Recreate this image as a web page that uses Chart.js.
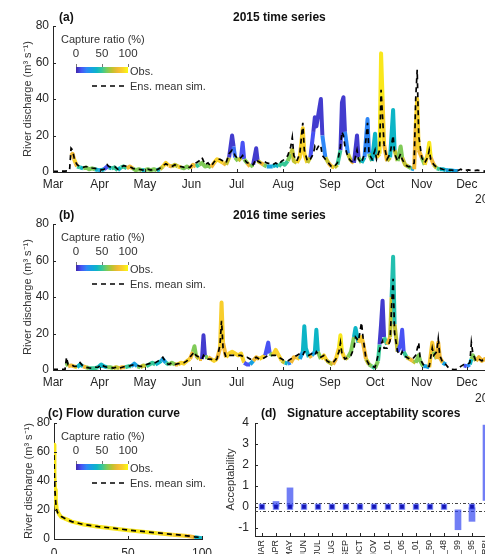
<!DOCTYPE html>
<html lang="en">
<head>
<meta charset="UTF-8">
<title>Discharge capture ratio and signature acceptability</title>
<script src="https://cdn.jsdelivr.net/npm/chart.js"></script>
<style>
    html, body {
        margin: 0;
        padding: 0;
        background: #fff;
        width: 485px;
        height: 554px;
        overflow: hidden;
    }
    body {
        position: relative;
        font-family: "Liberation Sans", Arial, Helvetica, sans-serif;
        color: #262626;
    }
    canvas { position: absolute; }
    .t { position: absolute; white-space: nowrap; line-height: 14px; }
    .ttl { font-weight: bold; font-size: 12px; color: #111; }
    .leg { font-size: 11px; color: #333; }
    .yr { font-size: 12px; color: #262626; }
    .cbar { position: absolute; height: 6px; }
    .ctick { position: absolute; width: 1px; height: 3px; background: #777; }
</style>
</head>
<body>
<canvas id="c2015" width="540" height="200" style="left:0;top:0;"></canvas>
<canvas id="c2016" width="540" height="200" style="left:0;top:198px;"></canvas>
<canvas id="cfdc" width="230" height="170" style="left:0;top:397px;"></canvas>
<canvas id="csig" width="360" height="200" style="left:200px;top:397px;"></canvas>
<script>
    Chart.defaults.font.family = '"Liberation Sans", Arial, Helvetica, sans-serif';
    Chart.defaults.color = '#262626';

    // month axis for the time series (days counted from 1 March)
    const months = ['Mar', 'Apr', 'May', 'Jun', 'Jul', 'Aug', 'Sep', 'Oct', 'Nov', 'Dec'];
    const monthStartDays = [0, 31, 61, 92, 122, 153, 184, 214, 245, 275];

    // 2015 series: day, observed, ensemble mean sim, capture ratio (%)
    const days2015 = [0, 4, 8, 11, 12, 13, 14, 15, 16, 18,
        20, 22, 24, 26, 28, 30, 32, 34, 36, 37,
        39, 41, 43, 45, 47, 49, 51, 53, 55, 57,
        59, 61, 63, 65, 67, 69, 71, 73, 75, 77,
        79, 81, 83, 85, 87, 89, 91, 93, 95, 97,
        99, 101, 103, 105, 107, 109, 111, 113, 115, 117,
        119, 120, 121, 123, 125, 126, 127, 129, 131, 133,
        135, 136, 138, 140, 142, 144, 146, 148, 150, 152,
        154, 156, 158, 159, 160, 162, 164, 166, 167, 169,
        171, 173, 174, 175, 177, 178, 179, 181, 183, 185,
        187, 189, 191, 192, 193, 194, 196, 198, 200, 202,
        203, 205, 207, 209, 210, 212, 214, 215, 217, 218,
        219, 220, 222, 224, 226, 227, 229, 231, 232, 234,
        236, 238, 240, 241, 242, 243, 245, 247, 249, 250,
        251, 253, 255, 257, 259, 261, 263, 265, 267, 269,
        271, 273, 276, 279, 282, 285, 290, 295, 300, 305];
    const obs2015 = [null, null, null, null, 9, 10, 7, 5, 3, 2.5,
        2, 2.5, 1.5, 2, 1.5, 1, 1, 1.5, 3, 2.5,
        2, 2.5, 1, 2.5, 3, 2, 3, 2, 1, 1.5,
        1, 1, 1.5, 1, 1.5, 1, 1.5, 3, 5, 3.5,
        3, 4, 3, 2.5, 2, 3, 2, 4, 3, 4,
        5, 3, 3.5, 2.5, 5, 7, 6, 5, 4, 8,
        20, 14, 8, 6, 8, 16, 7, 5, 3, 4,
        13, 6, 5, 4, 3, 3, 3, 4, 3, 5,
        4, 6, 10, 12, 6, 5, 8, 24, 10, 5,
        8, 22, 30, 25, 35, 40, 20, 8, 5, 3,
        2.5, 4, 12, 38, 41, 22, 10, 6, 5, 20,
        8, 5, 8, 29, 10, 6, 21, 8, 10, 65,
        40, 15, 6, 8, 34, 12, 6, 14, 8, 4,
        3, 2, 1.5, 25, 40, 12, 8, 4, 10, 16,
        8, 4, 2, 1.5, 1.5, 1, 1, 0.8, 0.6, 0.5,
        null, null, null, null, null, null, null, null, null, null];
    const sim2015 = [0.4, 0.4, 0.5, 0.8, 13, 12, 8, 5.5, 4, 3,
        2.5, 3, 2.5, 2.2, 2, 1.5, 1.2, 1.5, 4, 3,
        2.5, 3, 1.5, 2.5, 3.5, 3, 3, 2, 1.5, 1.5,
        1.2, 1, 1.5, 1, 1.5, 1.2, 2, 3.5, 4.5, 3.5,
        3, 4, 3, 3, 2.5, 3, 2.5, 4.5, 5, 6,
        8, 4, 5, 3, 5.5, 7, 7, 6, 5, 10,
        12, 11, 9, 7, 8, 9, 7, 5, 5, 4,
        7, 6, 5, 6, 5, 4.5, 4, 5, 4, 6,
        7, 9, 14, 19, 9, 6, 10, 27, 12, 6,
        7, 10, 14, 12, 15, 14, 9, 7, 5, 3,
        3, 5, 14, 22, 20, 14, 8, 6, 5, 12,
        7, 5, 10, 27, 10, 7, 12, 7, 12, 45,
        30, 15, 7, 10, 20, 10, 6, 10, 7, 4,
        3, 3, 5, 40, 56, 20, 8, 5, 8, 12,
        7, 4, 2.5, 2, 1.5, 1.2, 1, 1, 0.8, 0.8,
        1.5, 0.6, 1.2, 0.6, 1, 0.5, 0.6, 0.4, 0.5, 0.4];
    const capture2015 = [0, 0, 0, 0, 60, 80, 90, 80, 50, 40,
        40, 60, 30, 60, 40, 30, 30, 40, 10, 40,
        40, 50, 30, 40, 50, 70, 80, 60, 40, 60,
        40, 40, 60, 50, 60, 50, 40, 70, 90, 80,
        70, 70, 90, 60, 40, 60, 50, 80, 40, 50,
        60, 40, 60, 50, 80, 90, 90, 80, 60, 70,
        5, 15, 60, 80, 70, 10, 60, 80, 40, 60,
        5, 70, 80, 60, 30, 30, 40, 40, 40, 50,
        40, 50, 60, 70, 70, 80, 90, 90, 90, 80,
        70, 10, 5, 10, 5, 5, 20, 70, 80, 90,
        80, 70, 50, 5, 5, 20, 70, 80, 70, 5,
        60, 80, 40, 20, 60, 80, 40, 70, 90, 95,
        90, 80, 80, 70, 40, 70, 80, 60, 70, 70,
        60, 30, 30, 80, 90, 80, 60, 70, 90, 95,
        80, 70, 50, 40, 40, 30, 40, 30, 30, 30,
        0, 0, 0, 0, 0, 0, 0, 0, 0, 0];

    // 2016 series
    const days2016 = [0, 4, 8, 9, 10, 12, 14, 16, 18, 20,
        22, 24, 26, 28, 30, 32, 34, 36, 38, 40,
        42, 44, 46, 48, 50, 52, 54, 56, 58, 60,
        62, 64, 66, 68, 70, 72, 73, 75, 77, 79,
        81, 83, 85, 87, 89, 91, 93, 94, 95, 97,
        99, 100, 101, 103, 105, 107, 109, 111, 112, 113,
        115, 117, 119, 121, 123, 125, 127, 129, 131, 133,
        135, 137, 139, 141, 143, 144, 146, 148, 150, 152,
        154, 156, 158, 160, 162, 164, 166, 167, 168, 170,
        172, 174, 175, 176, 178, 180, 182, 184, 186, 188,
        190, 191, 192, 194, 196, 198, 200, 201, 203, 205,
        206, 208, 210, 212, 214, 216, 217, 218, 219, 220,
        222, 224, 225, 226, 227, 229, 231, 232, 233, 235,
        237, 239, 241, 243, 244, 246, 248, 250, 252, 253,
        255, 256, 257, 259, 261, 263, 265, 267, 269, 271,
        273, 275, 277, 278, 279, 281, 283, 285, 287, 290];
    const obs2016 = [null, null, null, 4, 2, 2.5, 2, 1.5, 3, 2,
        1.5, 1, 1, 1, 1.5, 3, 2, 1.5, 1.5, 1,
        1.5, 1, 1.5, 1.5, 2, 2, 3.5, 2, 1.5, 2.5,
        2, 3, 4, 3, 4, 5, 6, 4, 3, 4,
        3, 3, 4, 3.5, 5, 6, 10, 13, 8, 6,
        6, 19, 7, 7, 6, 5, 6, 12, 37, 15,
        7, 9, 10, 9, 8, 9, 4, 3, 3, 5,
        7, 6, 7, 8, 15, 9, 8, 11, 8, 5,
        4, 3.5, 4, 7, 7, 6, 10, 24, 12, 7,
        8, 10, 22, 10, 6, 8, 5, 4, 3, 6,
        12, 19, 10, 6, 7, 10, 18, 23, 15, 18,
        15, 6, 3, 2, 1, 5, 14, 25, 38, 18,
        14, 18, 40, 62, 25, 10, 14, 22, 10, 7,
        6, 5, 4, 8, 5, 2, 2, 1.5, 15, 10,
        6, 15, 7, 4, 3, null, null, null, null, null,
        2.5, 2, 3, 6, 8, 5, 7, 5, 6, 5];
    const sim2016 = [0.3, 0.3, 0.4, 7, 3, 3, 2, 2, 4, 2,
        1.5, 1.2, 1, 1.5, 1.5, 3, 2, 1.5, 1.5, 1,
        1.5, 1, 1.5, 2, 2, 2.5, 3, 2.5, 2, 2,
        3, 3.5, 4, 4, 5, 6, 7, 4, 3, 4,
        3, 3.5, 3.5, 4, 5, 7, 9, 10, 8, 7,
        6, 8, 7, 6, 6, 5, 6, 14, 27, 12,
        7, 8, 8, 8, 8, 8, 7, 7, 6, 6,
        7, 6, 6, 7, 8, 8, 8, 8, 7, 6,
        5, 5, 6, 7, 8, 9, 8, 10, 10, 8,
        9, 8, 10, 9, 7, 8, 5, 4, 4, 6,
        10, 15, 9, 6, 7, 8, 12, 18, 16, 26,
        18, 6, 3, 2, 1.5, 8, 11, 14, 16, 12,
        12, 16, 35, 50, 20, 10, 8, 10, 8, 7,
        6, 6, 8, 15, 6, 3, 2, 2, 12, 8,
        10, 17, 8, 4, 3, 1, 0.3, 0.2, 0.4, 2,
        3, 3, 4, 15, 9, 5, 6, 5, 7, 6];
    const capture2016 = [0, 0, 0, 60, 60, 80, 90, 80, 40, 80,
        60, 50, 50, 40, 50, 40, 40, 60, 60, 50,
        70, 60, 80, 60, 50, 60, 30, 60, 60, 70,
        40, 50, 50, 60, 40, 40, 30, 50, 50, 60,
        80, 90, 90, 90, 90, 90, 80, 60, 70, 80,
        60, 5, 60, 80, 90, 90, 90, 80, 88, 80,
        90, 90, 90, 90, 90, 90, 10, 10, 10, 30,
        80, 90, 90, 90, 10, 60, 80, 90, 90, 70,
        40, 20, 20, 80, 90, 50, 30, 40, 40, 70,
        80, 30, 40, 60, 80, 90, 70, 70, 60, 80,
        90, 95, 90, 80, 70, 60, 60, 40, 80, 85,
        80, 70, 60, 50, 40, 60, 50, 5, 5, 50,
        80, 80, 70, 45, 70, 80, 10, 10, 50, 70,
        80, 70, 40, 60, 60, 30, 30, 30, 85, 60,
        50, 80, 80, 30, 20, 0, 0, 0, 0, 0,
        10, 10, 20, 40, 60, 70, 80, 70, 80, 70];

    // flow duration curve (exceedance %, discharge)
    const fdcExceed = [0, 0.3, 0.7, 1.2, 1.8, 2.5, 3.5, 5, 8.6, 12, 20, 30, 40, 50, 60, 70, 80, 90, 95, 100];
    const fdcObs = [65, 45, 34, 27, 21, 19, 17, 15, 13.5, 12, 10, 8.5, 7.3, 6, 5, 4, 3, 2, 1.3, 0.5];
    const fdcSim = [58, 42, 32, 25, 20, 18, 17, 15.5, 13.5, 12, 10, 8.5, 7.5, 6.2, 5.2, 4.2, 3.2, 2.2, 1.5, 1];
    const fdcCapture = [95, 95, 95, 95, 95, 95, 95, 95, 95, 95, 95, 95, 95, 95, 95, 92, 90, 80, 40, 20];

    // signature acceptability scores
    const sigNames = ['Q_MAR', 'Q_APR', 'Q_MAY', 'Q_JUN', 'Q_JUL', 'Q_AUG', 'Q_SEP', 'Q_OCT', 'Q_NOV',
        'Q_01', 'FDC_05', 'BFI_01', 'FDC_50', 'RL_48', 'FDC_99', 'Q_95', 'RBI', 'SFDC', 'RR', 'EI'];
    const sigMarker = [0, 0, 0, 0, 0, 0, 0, 0, 0, 0, 0, 0, 0, 0, null, 0, null, null, null, null];
    const sigLow = [null, 0, 0, null, null, null, null, null, null, null, null, null, null, null, -1.1, -0.7, 0.3, null, null, null];
    const sigHigh = [null, 0.25, 0.9, null, null, null, null, null, null, null, null, null, null, null, -0.15, -0.05, 3.9, null, null, null];
    const acceptBounds = [0.2, -0.2];
    const accTicks = [-1, 0, 1, 2, 3, 4];

    // parula colormap
    const parulaStops = ['#3e26a8', '#4852f4', '#2e87f7', '#16a1e2', '#0db5c6', '#37c897',
        '#80cb58', '#c2c22f', '#f2b934', '#f9d32a', '#f9fb0e'];
    function hexRgb(h) { return [1, 3, 5].map(i => parseInt(h.substr(i, 2), 16)); }
    function parula(t) {
        t = Math.max(0, Math.min(1, t)) * (parulaStops.length - 1);
        const i = Math.min(Math.floor(t), parulaStops.length - 2), f = t - i;
        const a = hexRgb(parulaStops[i]), b = hexRgb(parulaStops[i + 1]);
        return 'rgb(' + a.map((v, k) => Math.round(v + (b[k] - v) * f)).join(',') + ')';
    }

    // MATLAB style ticks pointing into the axes
    const innerTicks = {
        id: 'innerTicks',
        afterDraw(chart) {
            const { ctx, chartArea: a } = chart;
            const xs = chart.scales.x, ys = chart.scales.y;
            ctx.save();
            ctx.strokeStyle = '#262626';
            ctx.lineWidth = 1;
            ctx.beginPath();
            xs.ticks.forEach((t, i) => {
                const px = Math.round(xs.getPixelForTick(i)) + 0.5;
                ctx.moveTo(px, a.bottom); ctx.lineTo(px, a.bottom - 3);
            });
            ys.ticks.forEach((t, i) => {
                const py = Math.round(ys.getPixelForTick(i)) + 0.5;
                ctx.moveTo(a.left, py); ctx.lineTo(a.left + 3, py);
            });
            ctx.stroke();
            ctx.restore();
        }
    };

    const refLines = {
        id: 'refLines',
        beforeDatasetsDraw(chart) {
            const { ctx, chartArea: a, scales: { y } } = chart;
            ctx.save();
            ctx.setLineDash([3, 2, 1, 2]);
            ctx.strokeStyle = '#444';
            ctx.lineWidth = 1;
            acceptBounds.forEach(v => {
                const py = Math.round(y.getPixelForValue(v)) + 0.5;
                ctx.beginPath(); ctx.moveTo(a.left, py); ctx.lineTo(a.right, py); ctx.stroke();
            });
            ctx.restore();
        }
    };

    const axisGrid = { display: true, drawOnChartArea: false, drawTicks: false };
    const axisBorder = { color: '#262626', width: 1 };
    const yTitle = { display: true, text: 'River discharge (m³ s⁻¹)', font: { size: 11 }, color: '#333', padding: { top: 4, bottom: 0 } };

    function lineSets(xs, obs, sim, cap) {
        // each obs segment takes the capture colour of its higher end
        const segColour = c => {
            const i = (obs[c.p1DataIndex] > obs[c.p0DataIndex]) ? c.p1DataIndex : c.p0DataIndex;
            return parula(cap[i] / 100);
        };
        return [
            {
                label: 'Ens. mean sim.',
                data: xs.map((d, i) => ({ x: d, y: sim[i] })),
                borderColor: '#000', borderWidth: 1.7, borderDash: [5, 4],
                pointRadius: 0, order: 0
            },
            {
                label: 'Obs.',
                data: xs.map((d, i) => ({ x: d, y: obs[i] })),
                borderColor: parula(0.9), borderWidth: 4, borderJoinStyle: 'round',
                pointRadius: 0, order: 1,
                segment: { borderColor: segColour }
            }
        ];
    }

    function seriesChart(id, xs, obs, sim, cap) {
        return new Chart(document.getElementById(id), {
            type: 'line',
            data: { datasets: lineSets(xs, obs, sim, cap) },
            options: {
                responsive: false, animation: false, events: [],
                layout: { padding: { left: 17, top: 26, right: 28, bottom: 8 } },
                plugins: { legend: { display: false }, tooltip: { enabled: false } },
                scales: {
                    x: {
                        type: 'linear', min: 0, max: 305,
                        afterBuildTicks: s => { s.ticks = monthStartDays.map(v => ({ value: v })); },
                        afterFit: s => { s.height = 20; },
                        ticks: { callback: (v, i) => months[i], font: { size: 12 }, padding: 5, maxRotation: 0, autoSkip: false },
                        grid: axisGrid, border: axisBorder
                    },
                    y: {
                        min: 0, max: 80,
                        ticks: { stepSize: 20, font: { size: 12 }, padding: 4 },
                        afterFit: s => { s.width = 36; },
                        title: yTitle, grid: axisGrid, border: axisBorder
                    }
                }
            },
            plugins: [innerTicks]
        });
    }

    seriesChart('c2015', days2015, obs2015, sim2015, capture2015);
    seriesChart('c2016', days2016, obs2016, sim2016, capture2016);

    new Chart(document.getElementById('cfdc'), {
        type: 'line',
        data: { datasets: lineSets(fdcExceed, fdcObs, fdcSim, fdcCapture) },
        options: {
            responsive: false, animation: false, events: [],
            layout: { padding: { left: 18, top: 26, right: 28, bottom: 8 } },
            plugins: { legend: { display: false }, tooltip: { enabled: false } },
            scales: {
                x: {
                    type: 'linear', min: 0, max: 100,
                    afterFit: s => { s.height = 20; },
                    ticks: { stepSize: 50, font: { size: 12 }, padding: 7, maxRotation: 0 },
                    grid: axisGrid, border: axisBorder
                },
                y: {
                    min: 0, max: 80,
                    ticks: { stepSize: 20, font: { size: 12 }, padding: 4 },
                    afterFit: s => { s.width = 36; },
                    title: yTitle, grid: axisGrid, border: axisBorder
                }
            }
        },
        plugins: [innerTicks]
    });

    new Chart(document.getElementById('csig'), {
        type: 'bar',
        data: {
            labels: sigNames,
            datasets: [
                {
                    type: 'line', data: sigMarker, showLine: false,
                    pointStyle: 'rect', pointRadius: 3.5,
                    pointBackgroundColor: '#1414b4', pointBorderColor: 'rgba(90,110,255,0.55)', pointBorderWidth: 1.5,
                    order: 0
                },
                {
                    type: 'bar', data: sigLow.map((v, i) => v == null ? null : [v, sigHigh[i]]),
                    backgroundColor: 'rgba(45,65,240,0.68)', barThickness: 6, order: 1
                }
            ]
        },
        options: {
            responsive: false, animation: false, events: [],
            layout: { padding: { left: 20, top: 26, right: 25, bottom: 1 } },
            plugins: { legend: { display: false }, tooltip: { enabled: false } },
            scales: {
                x: {
                    afterFit: s => { s.height = 60; },
                    ticks: { minRotation: 90, maxRotation: 90, autoSkip: false, font: { size: 9 }, padding: 4 },
                    grid: axisGrid, border: axisBorder
                },
                y: {
                    min: -1.4, max: 4,
                    afterBuildTicks: s => { s.ticks = accTicks.map(v => ({ value: v })); },
                    afterFit: s => { s.width = 35; },
                    ticks: { font: { size: 12 }, padding: 6 },
                    title: { display: true, text: 'Acceptability', font: { size: 11 }, color: '#333', padding: { top: 4, bottom: 0 } },
                    grid: axisGrid, border: axisBorder
                }
            }
        },
        plugins: [innerTicks, refLines]
    });

    // titles, year labels and the colourbar legends
    function put(text, left, top, cls, extra) {
        const d = document.createElement('div');
        d.className = 't ' + cls;
        d.textContent = text;
        d.style.left = left + 'px';
        d.style.top = top + 'px';
        if (extra) Object.assign(d.style, extra);
        document.body.appendChild(d);
        return d;
    }

    put('(a)', 59, 10, 'ttl');
    put('2015 time series', 233, 10, 'ttl');
    put('(b)', 59, 208, 'ttl');
    put('2016 time series', 233, 208, 'ttl');
    put('(c) Flow duration curve', 48, 406, 'ttl');
    put('(d)', 261, 406, 'ttl');
    put('Signature acceptability scores', 287, 406, 'ttl');
    put('2015', 475, 192, 'yr');
    put('2016', 475, 391, 'yr');

    const legendTicks = [0, 50, 100];
    function addLegend(top) {
        put('Capture ratio (%)', 61, top + 6, 'leg');
        legendTicks.forEach(v => {
            const cx = 76 + v * 0.52;
            put(String(v), cx - 15, top + 20, 'leg', { width: '30px', textAlign: 'center', fontSize: '11.5px' });
            const tk = document.createElement('div');
            tk.className = 'ctick';
            tk.style.left = Math.round(cx) + 'px';
            tk.style.top = (top + 38) + 'px';
            document.body.appendChild(tk);
        });
        const bar = document.createElement('div');
        bar.className = 'cbar';
        bar.style.left = '76px';
        bar.style.top = (top + 41) + 'px';
        bar.style.width = '52px';
        bar.style.background = 'linear-gradient(to right,' + parulaStops.join(',') + ')';
        document.body.appendChild(bar);
        put('Obs.', 130, top + 38, 'leg');
        const svg = document.createElementNS('http://www.w3.org/2000/svg', 'svg');
        svg.setAttribute('width', '34');
        svg.setAttribute('height', '4');
        svg.style.position = 'absolute';
        svg.style.left = '92px';
        svg.style.top = (top + 58) + 'px';
        svg.innerHTML = '<line x1="0" y1="2" x2="34" y2="2" stroke="#000" stroke-width="1.7" stroke-dasharray="5 4"/>';
        document.body.appendChild(svg);
        put('Ens. mean sim.', 130, top + 53, 'leg');
    }
    addLegend(26);
    addLegend(224);
    addLegend(423);
</script>
</body>
</html>
